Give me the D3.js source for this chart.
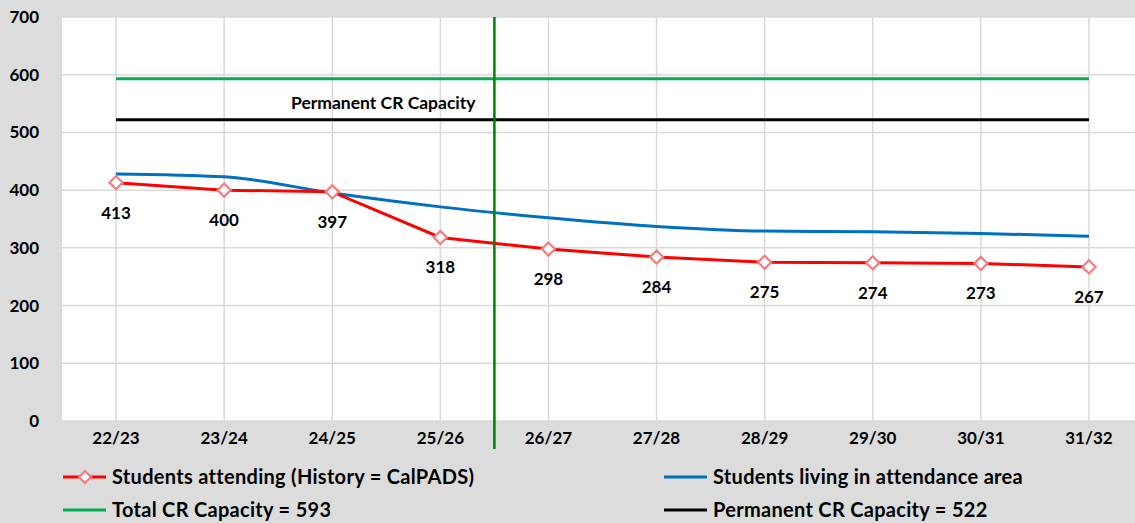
<!DOCTYPE html>
<html><head><meta charset="utf-8">
<script src="https://cdn.jsdelivr.net/npm/d3@7"></script>
<style>
html,body{margin:0;padding:0;background:#dcdcdc;}
svg{display:block;font-family:Lato,"Open Sans",sans-serif;font-weight:bold;}
</style></head><body>
<script>
const categories = ["22/23","23/24","24/25","25/26","26/27","27/28","28/29","29/30","30/31","31/32"];
const attending = [413,400,397,318,298,284,275,274,273,267];
const livingInArea = [428,423,395,371,352,337,329,328,325,320];
const totalCapacity = [593,593,593,593,593,593,593,593,593,593];
const permanentCapacity = [522,522,522,522,522,522,522,522,522,522];
const yTicks = [0,100,200,300,400,500,600,700];
const dividerBetween = ["25/26","26/27"];

(function(){
const W = 1135, H = 523;
const mLeft = 62, mTop = 17, mBottom = 421, mRight = 1143;
const svg = d3.select("body").append("svg").attr("width", W).attr("height", H);
svg.append("rect").attr("width", W).attr("height", H).attr("fill", "#dcdcdc");

const x = d3.scaleBand().domain(categories).range([mLeft, mRight]);
const cx = c => x(c) + x.bandwidth()/2;
const y = d3.scaleLinear().domain([0,700]).range([mBottom, mTop]);

svg.append("rect").attr("x", mLeft).attr("y", mTop).attr("width", mRight-mLeft).attr("height", mBottom-mTop).attr("fill", "#fff");

// grid
svg.append("g").selectAll("line").data(yTicks).join("line")
  .attr("x1", mLeft).attr("x2", mRight).attr("y1", d=>y(d)).attr("y2", d=>y(d))
  .attr("stroke", "#d9d9d9").attr("stroke-width", 1.5);
svg.append("g").selectAll("line").data(categories).join("line")
  .attr("x1", cx).attr("x2", cx).attr("y1", mTop).attr("y2", mBottom)
  .attr("stroke", "#d9d9d9").attr("stroke-width", 1.5);

// y axis labels
const yAxis = svg.append("g").attr("transform", `translate(${mLeft},0)`)
  .call(d3.axisLeft(y).tickValues(yTicks).tickSize(0).tickPadding(23));
yAxis.select(".domain").remove();
yAxis.selectAll("text").attr("font-size", 17).attr("font-weight", "bold").attr("fill", "#000").attr("font-family", "Lato, sans-serif");

// x axis labels
const xAxis = svg.append("g").attr("transform", `translate(0,${mBottom})`)
  .call(d3.axisBottom(x).tickSize(0).tickPadding(11));
xAxis.select(".domain").remove();
xAxis.selectAll("text").attr("font-size", 17).attr("font-weight", "bold").attr("fill", "#000").attr("font-family", "Lato, sans-serif");

// capacity lines
const lineGen = curve => d3.line().x((d,i)=>cx(categories[i])).y(d=>y(d)).curve(curve);
svg.append("path").datum(totalCapacity).attr("d", lineGen(d3.curveLinear))
  .attr("fill","none").attr("stroke","#00b050").attr("stroke-width",3);
svg.append("path").datum(permanentCapacity).attr("d", lineGen(d3.curveLinear))
  .attr("fill","none").attr("stroke","#000").attr("stroke-width",3);
svg.append("text").attr("x", (cx(categories[2])+cx(categories[3]))/2 - 3).attr("y", y(permanentCapacity[0]) - 11)
  .attr("text-anchor","middle").attr("font-size",17.5).attr("fill","#000").text("Permanent  CR Capacity");

// blue
svg.append("path").datum(livingInArea).attr("d", lineGen(d3.curveMonotoneX))
  .attr("fill","none").attr("stroke","#0070c0").attr("stroke-width",3);
// red
svg.append("path").datum(attending).attr("d", lineGen(d3.curveLinear))
  .attr("fill","none").attr("stroke","#ff0000").attr("stroke-width",3);

// divider
const dx = (cx(dividerBetween[0]) + cx(dividerBetween[1]))/2;
svg.append("line").attr("x1",dx).attr("x2",dx).attr("y1",mTop).attr("y2",449)
  .attr("stroke","#008000").attr("stroke-width",2.5);

// markers
const diamond = d3.symbol().type(d3.symbolDiamond2).size(110);
svg.append("g").selectAll("path").data(attending).join("path")
  .attr("transform",(d,i)=>`translate(${cx(categories[i])},${y(d)})`)
  .attr("d", diamond).attr("fill","#fff").attr("stroke","#f47c7c").attr("stroke-width",2.2);

// labels
svg.append("g").selectAll("text").data(attending).join("text")
  .attr("x",(d,i)=>cx(categories[i])).attr("y",d=>y(d)+36)
  .attr("text-anchor","middle").attr("font-size",17).attr("fill","#000").text(d=>d);

// legend
const legend = [
  {label:"Students attending (History = CalPADS)", color:"#ff0000", marker:true, x:63, y:477},
  {label:"Students living in attendance area", color:"#0070c0", x:664, y:477},
  {label:"Total CR Capacity = 593", color:"#00b050", x:63, y:510},
  {label:"Permanent CR Capacity = 522", color:"#000", x:664, y:510}
];
const lg = svg.append("g").selectAll("g").data(legend).join("g").attr("transform", d=>`translate(${d.x},${d.y})`);
lg.append("line").attr("x1",0).attr("x2",43).attr("stroke",d=>d.color).attr("stroke-width",3);
lg.filter(d=>d.marker).append("path").attr("transform","translate(22,0)").attr("d", d3.symbol().type(d3.symbolDiamond2).size(90))
  .attr("fill","#fff").attr("stroke","#f47c7c").attr("stroke-width",2.2);
lg.append("text").attr("x",49).attr("dy","0.35em").attr("font-size",20).attr("letter-spacing","0.3px").attr("fill","#000").text(d=>d.label);
})();
</script>
</body></html>
